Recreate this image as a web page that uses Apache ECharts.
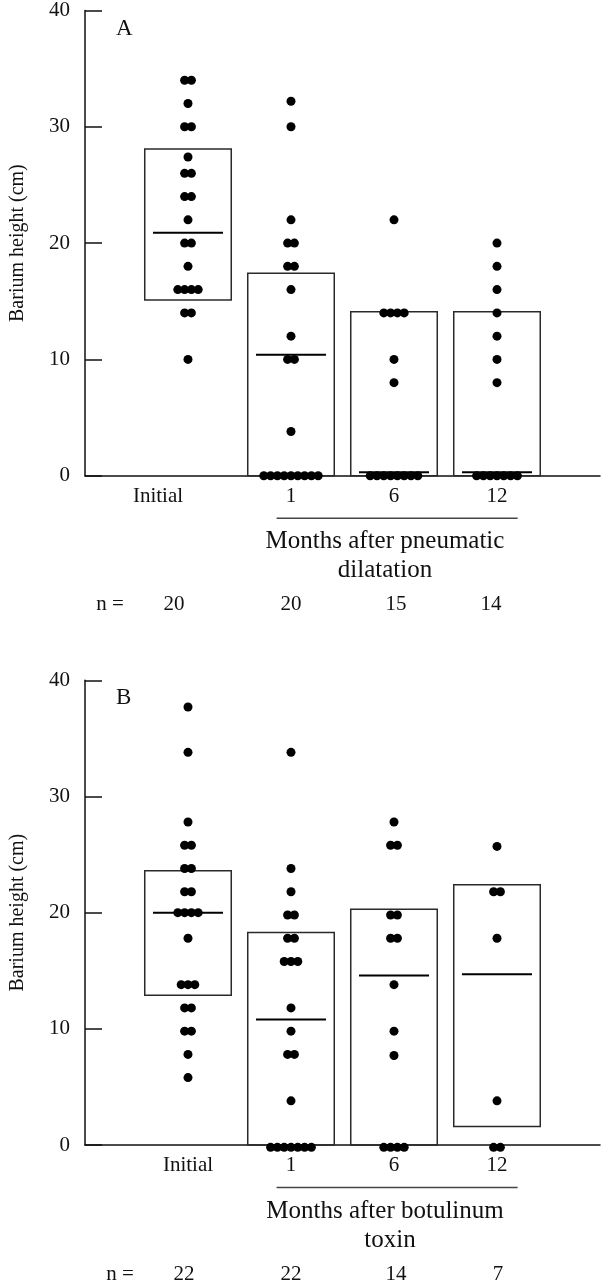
<!DOCTYPE html>
<html><head><meta charset="utf-8">
<script src="https://cdn.jsdelivr.net/npm/echarts@6/dist/echarts.min.js"></script>
<style>html,body{margin:0;padding:0;background:#fff}#c{width:608px;height:1280px}</style>
</head><body><div id="c"></div>
<script>
// ---- data ----
const groupLabels = ['Initial', '1', '6', '12'];
const yTickValues = [0, 10, 20, 30, 40];
const xTitleA = ['Months after pneumatic', 'dilatation'];
const xTitleB = ['Months after botulinum', 'toxin'];
const nA = [20, 20, 15, 14];
const nB = [22, 22, 14, 7];

const boxTopA = [28.1, 17.4, 14.1, 14.1];
const boxBottomA = [15.1, 0, 0, 0];
const medianA = [20.9, 10.4, 0.3, 0.3];
const boxTopB = [23.6, 18.3, 20.3, 22.4];
const boxBottomB = [12.9, 0, 0, 1.6];
const medianB = [20.0, 10.8, 14.6, 14.7];

const dotsAInitial = [34, 34, 32, 30, 30, 27.4, 26, 26, 24, 24, 22, 20, 20, 18, 16, 16, 16, 16, 14, 14, 10];
const dotsAMonth1 = [32.2, 30, 22, 20, 20, 18, 18, 16, 12, 10, 10, 3.8, 0, 0, 0, 0, 0, 0, 0, 0, 0];
const dotsAMonth6 = [22, 14, 14, 14, 14, 10, 8, 0, 0, 0, 0, 0, 0, 0, 0];
const dotsAMonth12 = [20, 18, 16, 14, 12, 10, 8, 0, 0, 0, 0, 0, 0, 0];

const dotsBInitial = [37.7, 33.8, 27.8, 25.8, 25.8, 23.8, 23.8, 21.8, 21.8, 20, 20, 20, 20, 17.8, 13.8, 13.8, 13.8, 11.8, 11.8, 9.8, 9.8, 7.8, 5.8];
const dotsBMonth1 = [33.8, 23.8, 21.8, 19.8, 19.8, 17.8, 17.8, 15.8, 15.8, 15.8, 11.8, 9.8, 7.8, 7.8, 3.8, -0.2, -0.2, -0.2, -0.2, -0.2, -0.2, -0.2];
const dotsBMonth6 = [27.8, 25.8, 25.8, 19.8, 19.8, 17.8, 17.8, 13.8, 9.8, 7.7, -0.2, -0.2, -0.2, -0.2];
const dotsBMonth12 = [25.7, 21.8, 21.8, 17.8, 3.8, -0.2, -0.2];

// ---- build ----
const FONT = 'Liberation Serif';
const INK = '#111';
const STEP = 0.066; // horizontal offset between tied dots (axis units)

function swarm(groups) {
  const out = [];
  groups.forEach((vals, g) => {
    const counts = {};
    vals.forEach(v => counts[v] = (counts[v] || 0) + 1);
    const seen = {};
    vals.forEach(v => {
      const k = counts[v];
      const i = seen[v] = (seen[v] === undefined ? 0 : seen[v] + 1);
      out.push([g + 1 + (i - (k - 1) / 2) * STEP, v]);
    });
  });
  return out;
}
function boxes(top, bottom, med) {
  return top.map((t, i) => [i + 1, bottom[i], t, med[i]]);
}
function boxRender(params, api) {
  const c = api.value(0), lo = api.value(1), hi = api.value(2), md = api.value(3);
  const p1 = api.coord([c - 0.42, hi]);
  const p2 = api.coord([c + 0.42, lo]);
  const m1 = api.coord([c - 0.34, md]);
  const m2 = api.coord([c + 0.34, md]);
  return {
    type: 'group',
    children: [
      { type: 'rect', shape: { x: p1[0], y: p1[1], width: p2[0] - p1[0], height: p2[1] - p1[1] },
        style: { fill: 'none', stroke: '#2a2a2a', lineWidth: 1.5 } },
      { type: 'line', shape: { x1: m1[0], y1: m1[1], x2: m2[0], y2: m2[1] },
        style: { stroke: '#000', lineWidth: 2 }, z2: 10 }
    ]
  };
}

const grids = [
  { left: 81, top: 6.7, width: 519, height: 469 },
  { left: 81, top: 680.3, width: 519, height: 464.7 }
];

function xAxisFor(idx, shiftInitial) {
  return {
    gridIndex: idx, type: 'value', min: 0, max: 5, interval: 1,
    axisLine: { show: true, onZero: false, lineStyle: { color: INK, width: 1.5 } },
    axisTick: { show: false }, splitLine: { show: false },
    axisLabel: {
      margin: 10, fontFamily: FONT, fontSize: 21, color: INK,
      showMinLabel: true, showMaxLabel: true,
      formatter: v => {
        const i = Math.round(v) - 1;
        if (i < 0 || i >= groupLabels.length) return '';
        if (i === 0 && shiftInitial) return '{sh|' + groupLabels[0] + '}';
        return groupLabels[i];
      },
      rich: { sh: { fontFamily: FONT, fontSize: 21, color: INK, padding: [0, 60, 0, 0] } }
    }
  };
}
function yAxisFor(idx) {
  return {
    gridIndex: idx, type: 'value', min: yTickValues[0], max: yTickValues[yTickValues.length - 1], interval: 10,
    axisLine: { show: true, lineStyle: { color: INK, width: 1.5 } },
    axisTick: { show: true, inside: true, length: 17, lineStyle: { color: INK, width: 1.5 } },
    splitLine: { show: false },
    axisLabel: { margin: 15, fontFamily: FONT, fontSize: 21, color: INK },
    name: 'Barium height (cm)', nameLocation: 'middle', nameGap: 57,
    nameTextStyle: { fontFamily: FONT, fontSize: 20, color: INK }
  };
}

const chart = echarts.init(document.getElementById('c'), null, { renderer: 'canvas' });
chart.setOption({
  animation: false,
  backgroundColor: '#fff',
  grid: grids,
  xAxis: [xAxisFor(0, true), xAxisFor(1, false)],
  yAxis: [yAxisFor(0), yAxisFor(1)],
  series: [
    { type: 'custom', xAxisIndex: 0, yAxisIndex: 0, renderItem: boxRender, clip: false,
      data: boxes(boxTopA, boxBottomA, medianA), z: 1 },
    { type: 'custom', xAxisIndex: 1, yAxisIndex: 1, renderItem: boxRender, clip: false,
      data: boxes(boxTopB, boxBottomB, medianB), z: 1 },
    { type: 'scatter', xAxisIndex: 0, yAxisIndex: 0, symbolSize: 9, clip: false,
      itemStyle: { color: '#000', opacity: 1 }, z: 2,
      data: swarm([dotsAInitial, dotsAMonth1, dotsAMonth6, dotsAMonth12]) },
    { type: 'scatter', xAxisIndex: 1, yAxisIndex: 1, symbolSize: 9, clip: false,
      itemStyle: { color: '#000', opacity: 1 }, z: 2,
      data: swarm([dotsBInitial, dotsBMonth1, dotsBMonth6, dotsBMonth12]) }
  ]
});

// annotations below each panel
function px(gi, x, y) { return chart.convertToPixel({ gridIndex: gi }, [x, y]); }
function txt(x, y, s, size, align) {
  return { type: 'text', x: x, y: y,
    style: { text: s, fontFamily: FONT, fontSize: size || 21, fill: INK,
      align: align || 'center', verticalAlign: 'middle' } };
}
const g = [];
[[0, xTitleA, nA, [-14, 0, 2, -6], 110, 'A', 385], [1, xTitleB, nB, [-4, 0, 2, 1], 120, 'B', 390]].forEach(([gi, title, ns, nOff, nEqX, letter, t2x]) => {
  const base = px(gi, 0, 0)[1];
  const top = px(gi, 0, 40)[1];
  const l1 = px(gi, 1.86, 0)[0], l2 = px(gi, 4.2, 0)[0];
  g.push({ type: 'line', shape: { x1: l1, y1: base + 42.5, x2: l2, y2: base + 42.5 },
    style: { stroke: '#444', lineWidth: 1.5 } });
  g.push(txt(385, base + 66, title[0], 25));
  g.push(txt(t2x, base + 95, title[1], 25));
  g.push(txt(nEqX, base + 129, 'n =', 21));
  ns.forEach((n, i) => {
    g.push(txt(px(gi, i + 1, 0)[0] + nOff[i], base + 129, String(n), 21));
  });
  g.push(txt(116, top + 18, letter, 23, 'left'));
});
chart.setOption({ graphic: g });
</script></body></html>
